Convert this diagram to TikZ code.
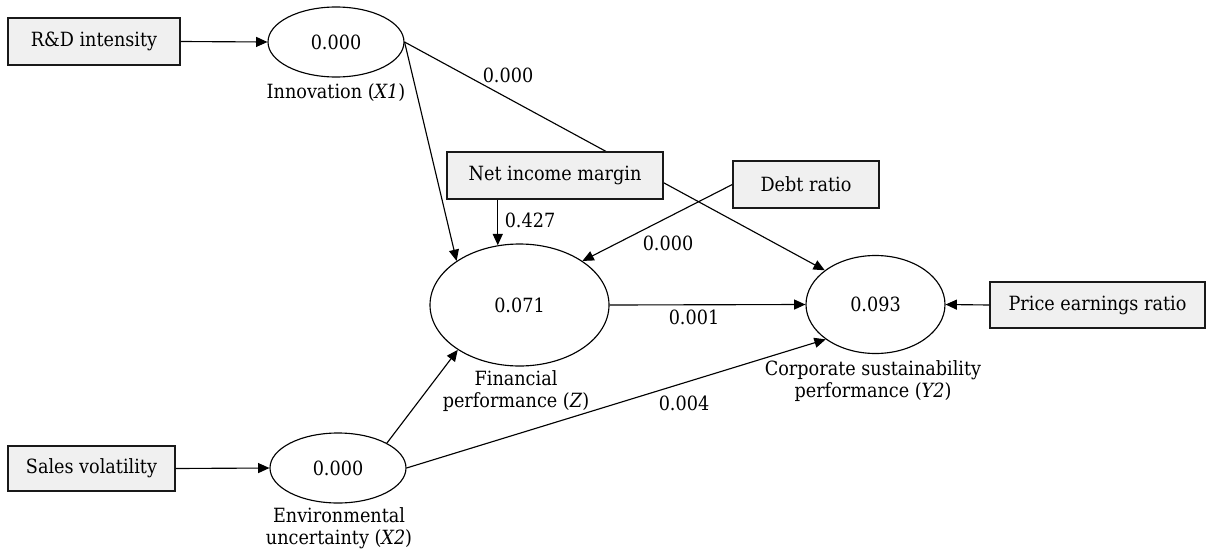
\documentclass[tikz,border=0pt]{standalone}
\usepackage{fontspec}
\setmainfont{DejaVu Serif Condensed}
\usetikzlibrary{shapes.geometric,arrows.meta,backgrounds}
\begin{document}
\begin{tikzpicture}[x=0.75pt,y=-0.75pt,
  font=\fontsize{14.7pt}{16.5pt}\selectfont,
  latent/.style={ellipse,draw=black,line width=0.85pt,fill=white,inner sep=0pt},
  indicator/.style={rectangle,draw=black!90,line width=1pt,fill=boxgray,inner sep=0pt},
  arr/.style={draw=black,line width=0.85pt,-{Triangle[length=8.5pt,width=7.5pt]}},
  lbl/.style={inner sep=0pt,align=center}]
\definecolor{boxgray}{HTML}{F0F0F0}
\useasboundingbox (0,0) rectangle (1206,550);
% latent variables
\node[latent,minimum width=102pt,minimum height=52.5pt] (inn) at (336,42) {0.000};
\node[latent,minimum width=134.25pt,minimum height=91.5pt] (fin) at (519.5,305) {0.071};
\node[latent,minimum width=104.25pt,minimum height=73.5pt] (csp) at (875.5,304.5) {0.093};
\node[latent,minimum width=102pt,minimum height=52.5pt] (env) at (338,468) {0.000};
% indicators
\node[indicator,minimum width=129pt,minimum height=35.25pt] (rd) at (94,41.5) {R\&D intensity};
\node[indicator,minimum width=125.25pt,minimum height=33.75pt] (sales) at (91.5,468.5) {Sales volatility};
\node[indicator,minimum width=162pt,minimum height=35.25pt] (net) at (555,175.5) {Net income margin};
\node[indicator,minimum width=109.5pt,minimum height=35.25pt] (debt) at (806,184.5) {Debt ratio};
\node[indicator,minimum width=161.25pt,minimum height=34.5pt] (pe) at (1097.5,305) {Price earnings ratio};
% latent names
\node[lbl] (innname) at (336,93) {Innovation (\textit{X1})};
\node[lbl] (finname) at (516,391) {Financial\\performance (\textit{Z})};
\node[lbl] (cspname) at (873,381) {Corporate sustainability\\performance (\textit{Y2})};
\node[lbl] (envname) at (339,528.5) {Environmental\\uncertainty (\textit{X2})};
% path coefficients
\node[lbl] (c1) at (508,75) {0.000};
\node[lbl] (c2) at (530,220) {0.427};
\node[lbl] (c3) at (668,243) {0.000};
\node[lbl] (c4) at (694,317) {0.001};
\node[lbl] (c5) at (684,403) {0.004};
% connectors
\begin{pgfonlayer}{background}
\draw[arr] (inn.east) -- (csp.146);
\end{pgfonlayer}
\draw[arr] (rd.east) -- (inn.west);
\draw[arr] (sales.east) -- (env.west);
\draw[arr] (inn.east) -- (fin.145);
\draw[arr] (fin.110 |- net.south) -- (fin.110);
\draw[arr] (debt.west) -- (fin.35);
\draw[arr] (fin.east) -- (csp.west);
\draw[arr] (env.27) -- (fin.216);
\draw[arr] (env.east) -- (csp.215);
\draw[arr] (pe.west) -- (csp.east);
\end{tikzpicture}
\end{document}
